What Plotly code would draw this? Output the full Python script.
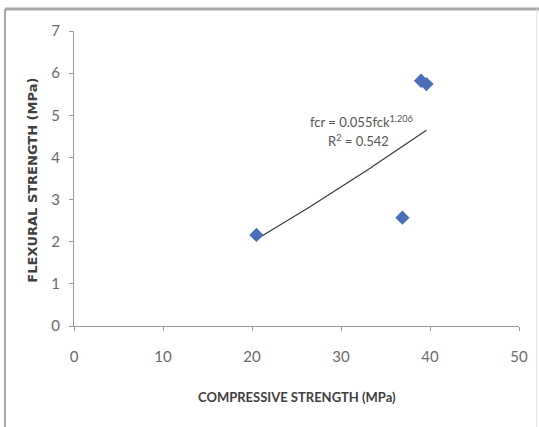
import numpy as np
import plotly.graph_objects as go

# Data
compressive = [20.5, 36.9, 39.0, 39.6]   # MPa
flexural = [2.16, 2.57, 5.82, 5.74]      # MPa

x_ticks = [0, 10, 20, 30, 40, 50]
y_ticks = [0, 1, 2, 3, 4, 5, 6, 7]

eq_text = "fcr = 0.055fck<sup>1.206</sup>"
r2_text = "R<sup>2</sup> = 0.542"

# Power trendline fitted from the data (log-log least squares)
lx = np.log(compressive)
ly = np.log(flexural)
b, a = np.polyfit(lx, ly, 1)
xfit = np.linspace(min(compressive), max(compressive), 50)
yfit = np.exp(a) * xfit ** b

fig = go.Figure()
fig.add_trace(go.Scatter(x=xfit, y=yfit, mode="lines",
                         line=dict(color="#3a3a3a", width=1.2),
                         showlegend=False, hoverinfo="skip"))
fig.add_trace(go.Scatter(x=compressive, y=flexural, mode="markers",
                         marker=dict(symbol="diamond", size=11, color="#4a6fb8",
                                     line=dict(width=0)),
                         showlegend=False))

FONT = "Lato, Liberation Sans, Arial"
tickfont = dict(family=FONT, size=15, color="#6a6a6a")

fig.update_xaxes(range=[0, 50], tickvals=x_ticks, showgrid=False, zeroline=False,
                 showline=True, linecolor="#9a9a9a", linewidth=1,
                 ticks="outside", ticklen=4, tickcolor="#9a9a9a",
                 tickfont=tickfont, ticklabelstandoff=13)
fig.update_yaxes(range=[0, 7], tickvals=y_ticks, showgrid=False, zeroline=False,
                 showline=True, linecolor="#9a9a9a", linewidth=1,
                 ticks="outside", ticklen=4, tickcolor="#9a9a9a",
                 tickfont=tickfont, ticklabelstandoff=6)

annots = [
    dict(text="<b>COMPRESSIVE STRENGTH (MPa)</b>", xref="paper", yref="paper",
         x=0.501, y=-0.2407, showarrow=False, xanchor="center", yanchor="middle",
         font=dict(family=FONT, size=13, color="#404040")),
    dict(text="<b>FLEXURAL STRENGTH (MPa)</b>", xref="paper", yref="paper",
         x=-0.092, y=0.493, showarrow=False, xanchor="center", yanchor="middle",
         textangle=-90,
         font=dict(family="DejaVu Sans, Verdana", size=13, color="#404040")),
    dict(text=eq_text, x=32.3, y=4.86, showarrow=False, xanchor="center", yanchor="middle",
         font=dict(family=FONT, size=13, color="#555555")),
    dict(text=r2_text, x=32.0, y=4.39, showarrow=False, xanchor="center", yanchor="middle",
         font=dict(family=FONT, size=13, color="#555555")),
]

shapes = [
    dict(type="line", xref="paper", yref="paper", x0=-0.155, x1=1.045, y0=1.0746, y1=1.0746,
         line=dict(color="#a8a8a8", width=3)),
    dict(type="line", xref="paper", yref="paper", x0=-0.155, x1=-0.155, y0=-0.4, y1=1.0746,
         line=dict(color="#a8a8a8", width=2)),
    dict(type="line", xref="paper", yref="paper", x0=1.040, x1=1.040, y0=-0.4, y1=1.0746,
         line=dict(color="#e2e2e2", width=1)),
]

fig.update_layout(width=539, height=427, margin=dict(l=74, r=20, t=31, b=101),
                  paper_bgcolor="white", plot_bgcolor="white",
                  annotations=annots, shapes=shapes)

fig.write_html("out.html", config={"displayModeBar": False},
               post_script="document.body.style.margin='0';document.body.style.padding='0';")
